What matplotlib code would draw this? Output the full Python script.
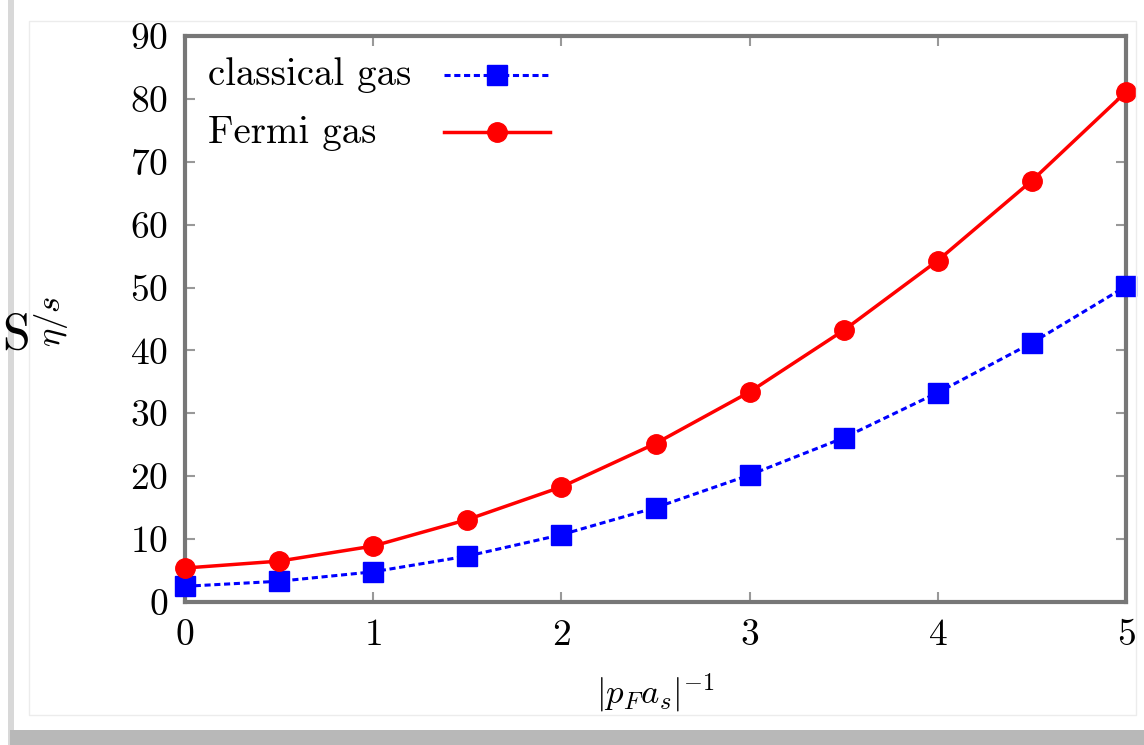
import matplotlib
matplotlib.use("Agg")
import matplotlib.pyplot as plt
from matplotlib.patches import Rectangle
import numpy as np

plt.rcParams['font.family'] = ['cmr10', 'DejaVu Serif']
plt.rcParams['mathtext.fontset'] = 'cm'
plt.rcParams['axes.formatter.use_mathtext'] = True

x = [0, 0.5, 1, 1.5, 2, 2.5, 3, 3.5, 4, 4.5, 5]
classical = [2.5, 3.3, 4.8, 7.3, 10.7, 15.0, 20.2, 26.1, 33.3, 41.2, 50.2]
fermi = [5.4, 6.5, 8.9, 13.1, 18.3, 25.2, 33.4, 43.2, 54.3, 67.0, 81.1]
labels = ['classical gas', 'Fermi gas']
xticks = [0, 1, 2, 3, 4, 5]
yticks = [0, 10, 20, 30, 40, 50, 60, 70, 80, 90]

W, H = 1144, 745
fig = plt.figure(figsize=(W / 100, H / 100), dpi=100)

# page decoration (shadow + frame)
fig.patches.append(Rectangle((8 / W, 0), 6 / W, 1, transform=fig.transFigure,
                             facecolor='#d8d8d8', edgecolor='none', zorder=0))
fig.patches.append(Rectangle((10 / W, 0), 1, 15 / H, transform=fig.transFigure,
                             facecolor='#b8b8b8', edgecolor='none', zorder=0))
fig.patches.append(Rectangle((29 / W, (H - 715) / H), (1136 - 29) / W, (715 - 21) / H,
                             transform=fig.transFigure, facecolor='none',
                             edgecolor='#ececec', lw=1, zorder=0))

AW, AH = 1126 - 185, 602 - 36
ax = fig.add_axes([185 / W, (H - 602) / H, AW / W, AH / H])

l1, = ax.plot(x, classical, color='#0000ff', ls=(0, (2, 1.2)), lw=2.2, marker='s',
              markersize=14, clip_on=False, zorder=3)
l2, = ax.plot(x, fermi, color='#ff0000', ls='-', lw=2.5, marker='o',
              markersize=14, clip_on=False, zorder=3)

ax.set_xlim(0, 5)
ax.set_ylim(0, 90)
ax.set_xticks(xticks)
ax.set_yticks(yticks)
ax.tick_params(direction='in', length=7, width=1.5, color='#999999',
               top=True, right=True, labelsize=27, pad=12)
for s in ax.spines.values():
    s.set_color('#777777')
    s.set_linewidth(3)

ax.set_xlabel(r'$|p_F a_s|^{-1}$', fontsize=25, labelpad=14)
ax.set_ylabel(r'$\eta/s$', fontsize=25)
ax.yaxis.set_label_coords(-(185 - 70) / AW, (602 - 321) / AH)
fig.text(16 / W, (H - 336) / H, 'S', fontsize=36, ha='center', va='center',
         fontweight='bold', color='black')

# legend: handles via legend machinery, labels left-aligned as text
leg = ax.legend([l1, l2], ['', ''], loc='center', frameon=False, fontsize=28,
                handlelength=2.75, handletextpad=0, labelspacing=0.55,
                bbox_to_anchor=((497 - 185) / AW, (602 - 107) / AH))
for lab, yy in zip(labels, [75, 133]):
    ax.text((208 - 185) / AW, (602 - yy) / AH, lab,
            transform=ax.transAxes, fontsize=28, ha='left', va='center')

fig.savefig('out.png', dpi=100)
